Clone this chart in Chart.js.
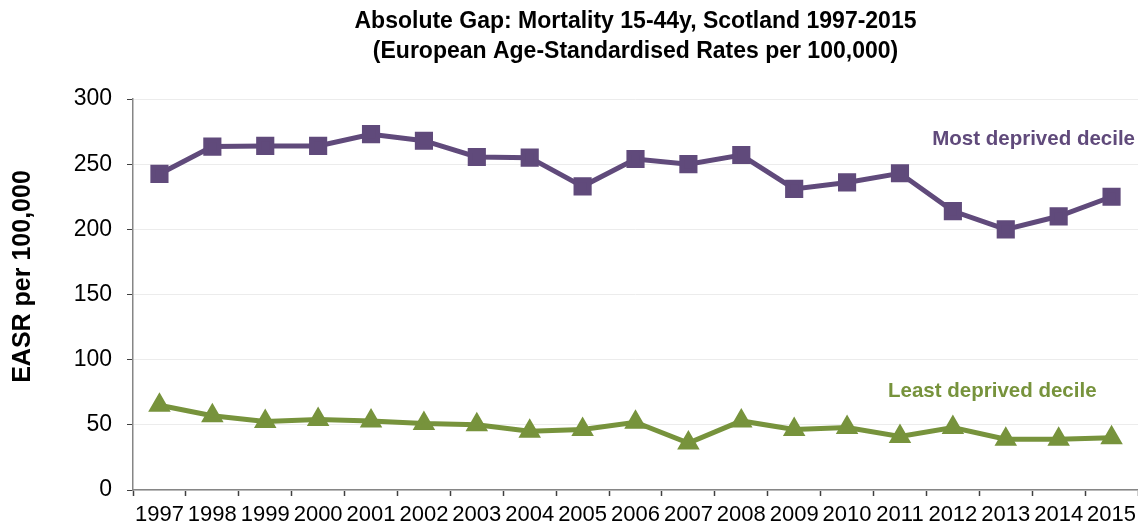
<!DOCTYPE html>
<html>
<head>
<meta charset="utf-8">
<script src="https://cdn.jsdelivr.net/npm/chart.js@4"></script>
<style>
  html, body { margin: 0; padding: 0; background: #ffffff; }
  #wrap { width: 1138px; height: 527px; position: relative; }
</style>
</head>
<body>
<div id="wrap"><canvas id="c" width="1138" height="527"></canvas></div>
<script>
const years = ['1997','1998','1999','2000','2001','2002','2003','2004','2005','2006','2007','2008','2009','2010','2011','2012','2013','2014','2015'];
const mostDeprived = [242.5, 263.5, 264, 264, 273, 268, 255.5, 255, 233, 254, 250, 257, 231, 236, 243, 214, 200, 210, 225];
const leastDeprived = [65, 57, 52.5, 54, 53, 51, 50, 45, 46.5, 52, 36, 53, 46.5, 48, 41, 48, 39, 39, 40];
const yTicks = [0, 50, 100, 150, 200, 250, 300];
const titleLines = ['Absolute Gap: Mortality 15-44y, Scotland 1997-2015', '(European Age-Standardised Rates per 100,000)'];
const yAxisTitle = 'EASR per 100,000';
const seriesNames = ['Most deprived decile', 'Least deprived decile'];

const PURPLE = '#604A7B';
const GREEN = '#77933C';
const FONT = "'Liberation Sans', Arial, sans-serif";

const labelPlugin = {
  id: 'labels',
  afterDraw(chart) {
    const ctx = chart.ctx;
    const xs = chart.scales.x, ys = chart.scales.y;
    ctx.save();
    ctx.font = 'bold 20.5px ' + FONT;
    ctx.textBaseline = 'middle';
    ctx.textAlign = 'right';
    ctx.fillStyle = PURPLE;
    ctx.fillText(seriesNames[0], chart.chartArea.right - 3, ys.getPixelForValue(269));
    ctx.fillStyle = GREEN;
    ctx.fillText(seriesNames[1], xs.getPixelForValue(18) - 15, ys.getPixelForValue(76));
    // y axis title
    ctx.translate(23, (chart.chartArea.top + chart.chartArea.bottom) / 2 - 18);
    ctx.rotate(-Math.PI / 2);
    ctx.textAlign = 'center';
    ctx.fillStyle = '#000000';
    ctx.font = 'bold 25px ' + FONT;
    ctx.fillText(yAxisTitle, 0, 0);
    ctx.restore();
  }
};

new Chart(document.getElementById('c'), {
  type: 'line',
  data: {
    labels: years,
    datasets: [
      {
        label: seriesNames[0],
        data: mostDeprived,
        borderColor: PURPLE,
        backgroundColor: PURPLE,
        borderWidth: 5,
        pointStyle: 'rect',
        pointRadius: 9.3,
        pointHoverRadius: 9.3,
        tension: 0
      },
      {
        label: seriesNames[1],
        data: leastDeprived,
        borderColor: GREEN,
        backgroundColor: GREEN,
        borderWidth: 5,
        pointStyle: 'triangle',
        pointRadius: 8,
        pointHoverRadius: 8,
        tension: 0
      }
    ]
  },
  options: {
    responsive: false,
    animation: false,
    devicePixelRatio: 1,
    layout: { autoPadding: false, padding: { left: 0, right: 0, top: 0, bottom: 0 } },
    plugins: {
      legend: { display: false },
      tooltip: { enabled: false },
      title: {
        display: true,
        text: titleLines,
        fullSize: false,
        color: '#000000',
        font: { family: FONT, size: 23, weight: 'bold', lineHeight: 30 / 23 },
        padding: { top: 7, bottom: 32 }
      }
    },
    scales: {
      x: {
        type: 'category',
        offset: true,
        grid: {
          display: true,
          offset: true,
          drawOnChartArea: false,
          drawTicks: true,
          tickLength: 6,
          tickColor: '#404040',
          tickWidth: 1.5
        },
        border: { display: true, color: '#868686', width: 1.5 },
        ticks: {
          autoSkip: false,
          maxRotation: 0,
          minRotation: 0,
          padding: 6,
          color: '#000000',
          font: { family: FONT, size: 22 }
        },
        afterFit(scale) { scale.height = 37; scale.paddingRight = 0; scale.paddingLeft = 0; }
      },
      y: {
        min: 0,
        max: 300,
        afterBuildTicks(scale) { scale.ticks = yTicks.map(v => ({ value: v })); },
        grid: {
          color: '#ececec',
          lineWidth: 1,
          drawTicks: true,
          tickLength: 6,
          tickColor: '#404040'
        },
        border: { display: true, color: '#868686', width: 1.5 },
        ticks: {
          padding: 15,
          color: '#000000',
          font: { family: FONT, size: 23 }
        },
        title: { display: false },
        afterFit(scale) { scale.width = 133; }
      }
    }
  },
  plugins: [labelPlugin]
});
</script>
</body>
</html>
